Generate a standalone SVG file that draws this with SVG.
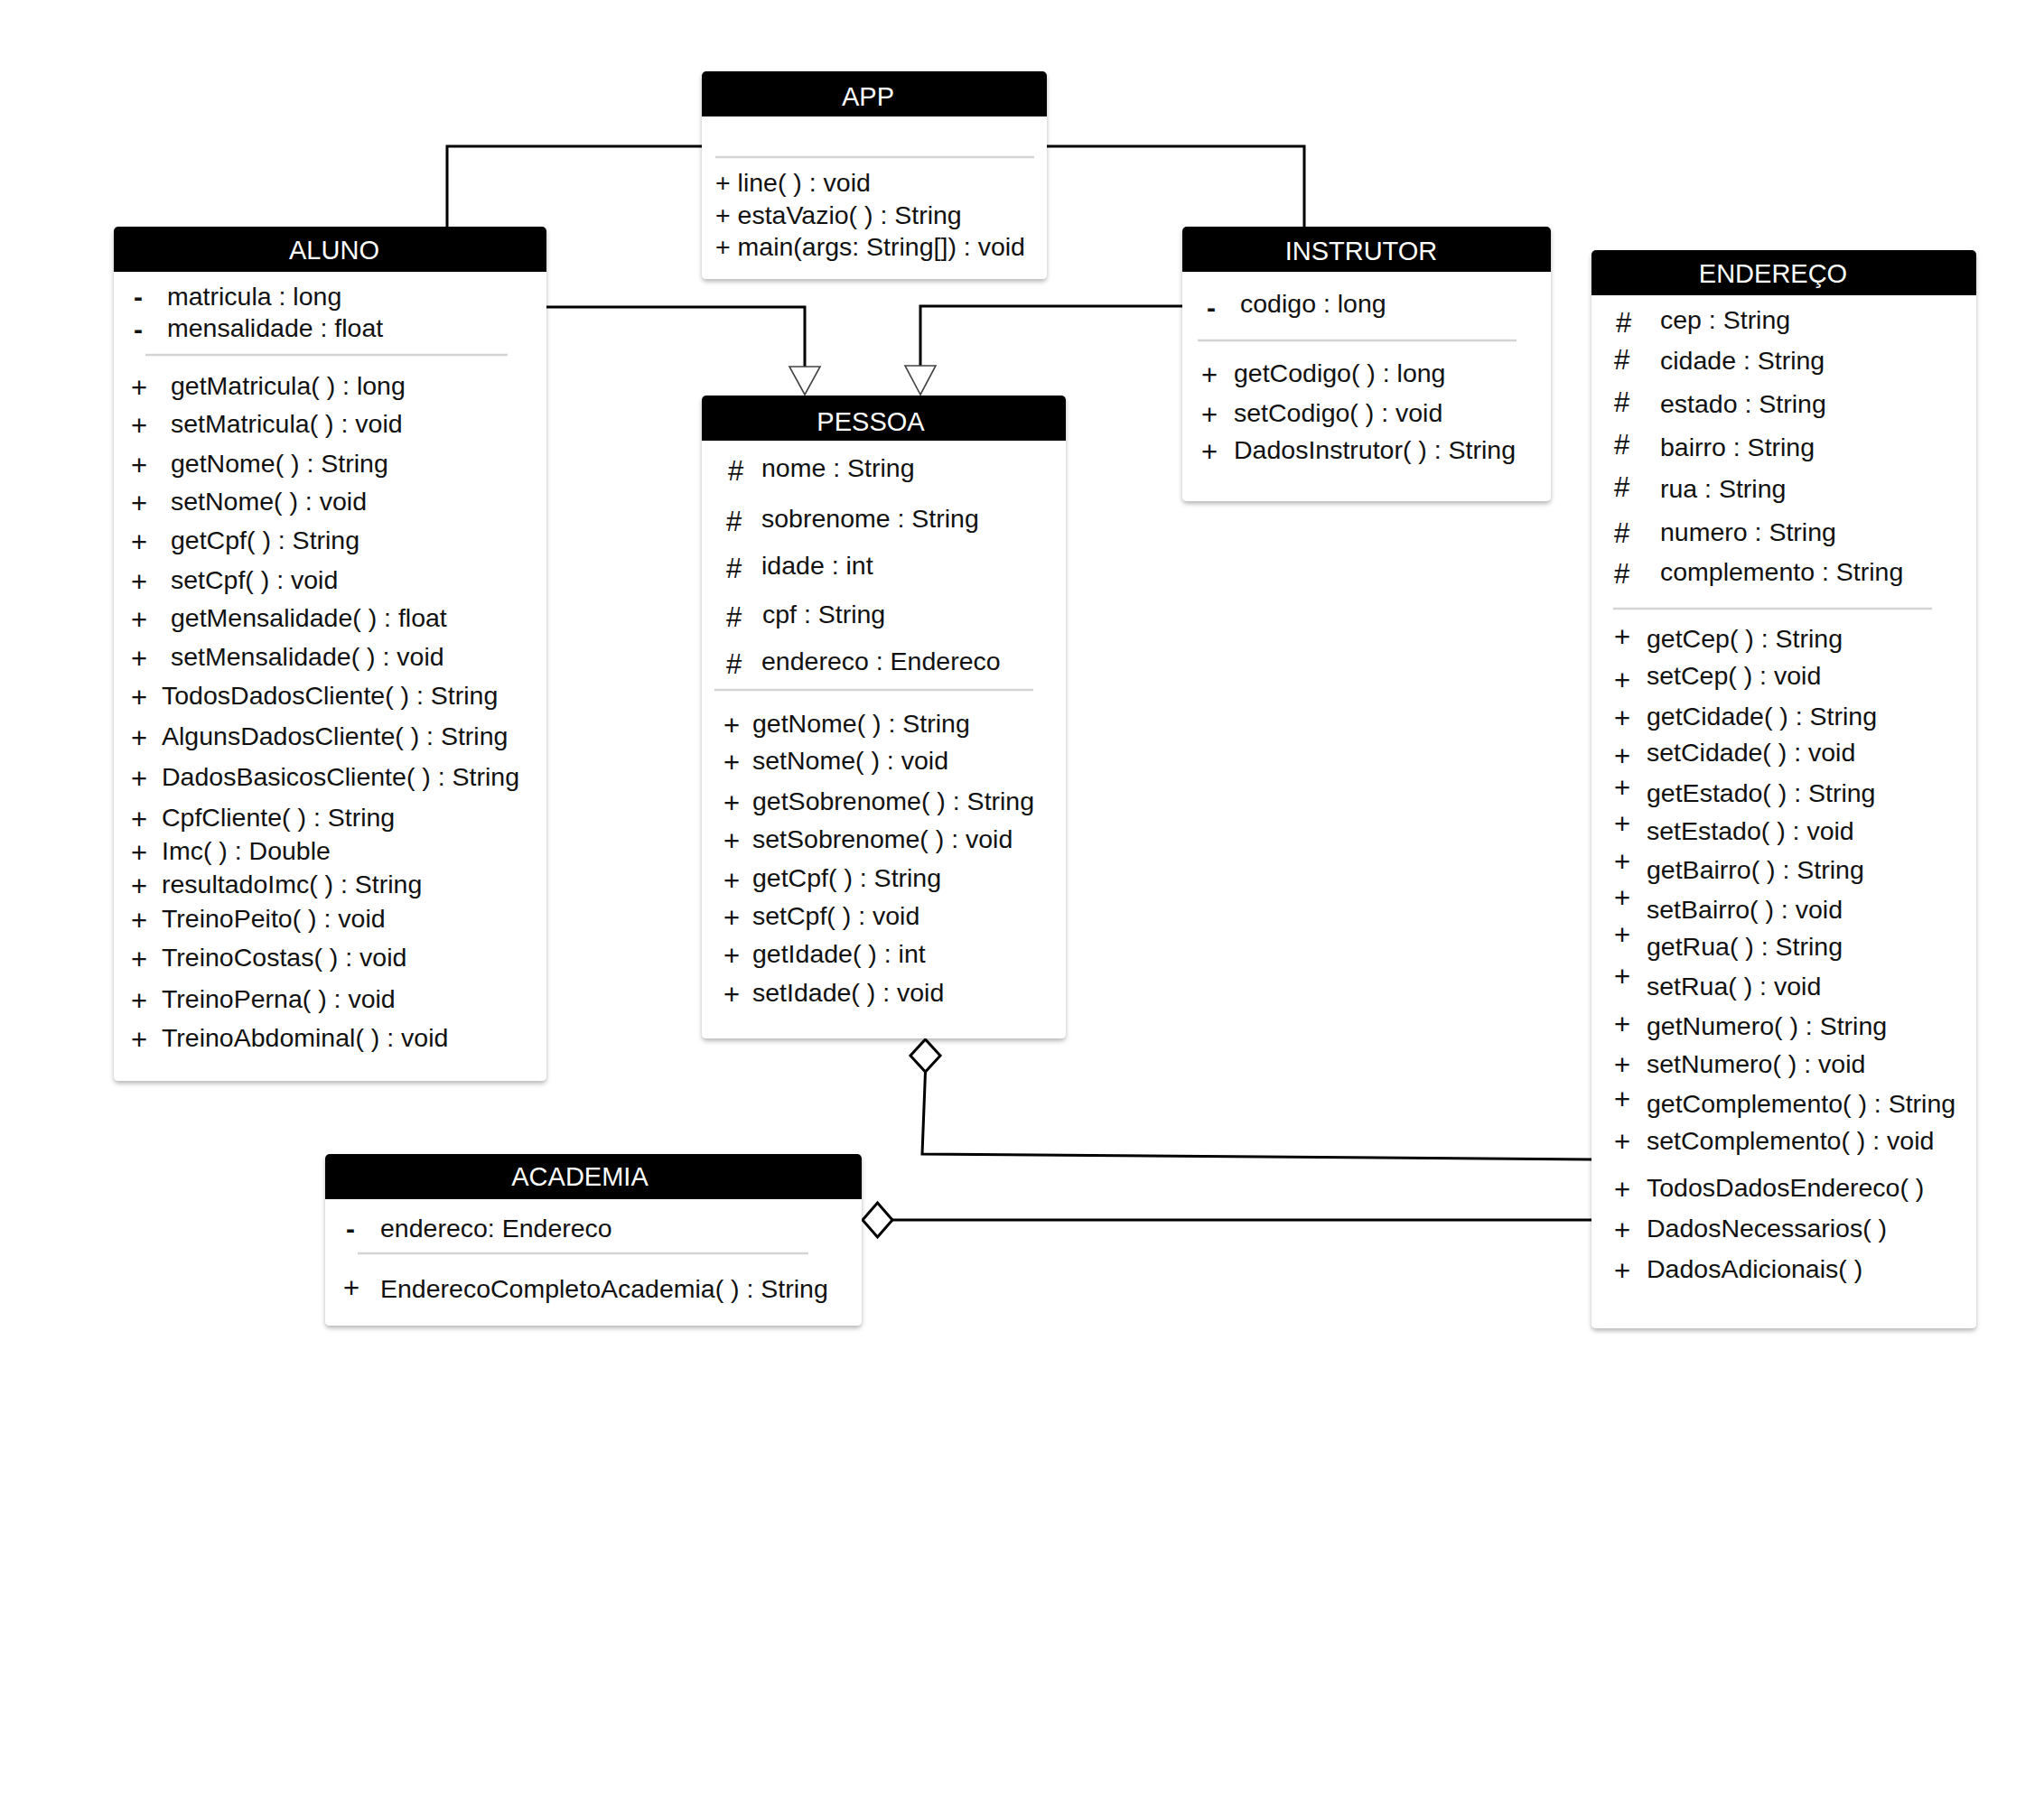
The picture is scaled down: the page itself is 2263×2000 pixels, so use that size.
<svg xmlns="http://www.w3.org/2000/svg" width="2263" height="2000" viewBox="0 0 2263 2000">
  <defs>
    <filter id="shadow" x="-5%" y="-5%" width="110%" height="110%">
      <feDropShadow dx="0" dy="3" stdDeviation="2.5" flood-color="#000" flood-opacity="0.28"/>
    </filter>
  </defs>
  <style>
    .card { fill: #ffffff; filter: url(#shadow); }
    .hdr { fill: #000000; }
    .title { font-family: "Liberation Sans", Arial, sans-serif; font-size: 29px; fill: #ffffff; text-anchor: middle; }
    .t { font-family: "Liberation Sans", Arial, sans-serif; font-size: 28.5px; fill: #111111; }
    .vis { font-family: "Liberation Sans", Arial, sans-serif; font-size: 31px; fill: #111111; }
    .dash { font-family: "Liberation Sans", Arial, sans-serif; font-size: 30px; font-weight: bold; fill: #111111; }
    .sep { stroke: #d4d4d4; stroke-width: 2.5; }
    .edge { fill: none; stroke: #000000; stroke-width: 3; }
    .tri { fill: #ffffff; stroke: #444444; stroke-width: 1.6; }
    .dia { fill: #ffffff; stroke: #000000; stroke-width: 3; stroke-linejoin: miter; }
  </style>

  <rect width="2263" height="2000" fill="#ffffff"/>

  <!-- connectors -->
  <g id="connectors">
    <!-- APP associations -->
    <polyline class="edge" points="777,162 495,162 495,251"/>
    <polyline class="edge" points="1158,162 1444,162 1444,251"/>
    <!-- ALUNO extends PESSOA -->
    <polyline class="edge" points="605,340 891,340 891,406"/>
    <polygon class="tri" points="874,406 908,406 891,437"/>
    <!-- INSTRUTOR extends PESSOA -->
    <polyline class="edge" points="1309,339 1019,339 1019,405"/>
    <polygon class="tri" points="1002,405 1036,405 1019,437"/>
    <!-- PESSOA aggregates ENDERECO -->
    <polyline class="edge" points="1024.5,1187 1021,1278 1762,1284"/>
    <polygon class="dia" points="1024.5,1151 1041,1169 1024.5,1187 1008,1169"/>
    <!-- ACADEMIA aggregates ENDERECO -->
    <line class="edge" x1="988" y1="1351" x2="1762" y2="1351"/>
    <polygon class="dia" points="955,1351 971.5,1332 988,1351 971.5,1370"/>
  </g>

  <!-- APP -->
  <g id="app">
    <rect class="card" x="777" y="79" width="382" height="230" rx="5"/>
    <path class="hdr" d="M777,129 V84 a5,5 0 0 1 5,-5 H1154 a5,5 0 0 1 5,5 V129 Z"/>
    <text class="title" x="961" y="117">APP</text>
    <line class="sep" x1="792" y1="174" x2="1145" y2="174"/>
    <text class="t" x="792" y="212">+ line( ) : void</text>
    <text class="t" x="792" y="248">+ estaVazio( ) : String</text>
    <text class="t" x="792" y="283">+ main(args: String[]) : void</text>
  </g>

  <!-- ALUNO -->
  <g id="aluno">
    <rect class="card" x="126" y="251" width="479" height="946" rx="5"/>
    <path class="hdr" d="M126,301 V256 a5,5 0 0 1 5,-5 H600 a5,5 0 0 1 5,5 V301 Z"/>
    <text class="title" x="370" y="287">ALUNO</text>
    <text class="dash" x="148" y="339">-</text>
    <text class="t" x="185" y="338">matricula : long</text>
    <text class="dash" x="148" y="375">-</text>
    <text class="t" x="185" y="373">mensalidade : float</text>
    <line class="sep" x1="161" y1="393" x2="562" y2="393"/>
    <text class="vis" x="145" y="440">+</text><text class="t" x="189" y="437">getMatricula( ) : long</text>
    <text class="vis" x="145" y="482">+</text><text class="t" x="189" y="479">setMatricula( ) : void</text>
    <text class="vis" x="145" y="526">+</text><text class="t" x="189" y="523">getNome( ) : String</text>
    <text class="vis" x="145" y="568">+</text><text class="t" x="189" y="565">setNome( ) : void</text>
    <text class="vis" x="145" y="611">+</text><text class="t" x="189" y="608">getCpf( ) : String</text>
    <text class="vis" x="145" y="655">+</text><text class="t" x="189" y="652">setCpf( ) : void</text>
    <text class="vis" x="145" y="697">+</text><text class="t" x="189" y="694">getMensalidade( ) : float</text>
    <text class="vis" x="145" y="740">+</text><text class="t" x="189" y="737">setMensalidade( ) : void</text>
    <text class="vis" x="145" y="783">+</text><text class="t" x="179" y="780">TodosDadosCliente( ) : String</text>
    <text class="vis" x="145" y="828">+</text><text class="t" x="179" y="825">AlgunsDadosCliente( ) : String</text>
    <text class="vis" x="145" y="873">+</text><text class="t" x="179" y="870">DadosBasicosCliente( ) : String</text>
    <text class="vis" x="145" y="918">+</text><text class="t" x="179" y="915">CpfCliente( ) : String</text>
    <text class="vis" x="145" y="955">+</text><text class="t" x="179" y="952">Imc( ) : Double</text>
    <text class="vis" x="145" y="992">+</text><text class="t" x="179" y="989">resultadoImc( ) : String</text>
    <text class="vis" x="145" y="1030">+</text><text class="t" x="179" y="1027">TreinoPeito( ) : void</text>
    <text class="vis" x="145" y="1073">+</text><text class="t" x="179" y="1070">TreinoCostas( ) : void</text>
    <text class="vis" x="145" y="1119">+</text><text class="t" x="179" y="1116">TreinoPerna( ) : void</text>
    <text class="vis" x="145" y="1162">+</text><text class="t" x="179" y="1159">TreinoAbdominal( ) : void</text>
  </g>

  <!-- PESSOA -->
  <g id="pessoa">
    <rect class="card" x="777" y="438" width="403" height="712" rx="5"/>
    <path class="hdr" d="M777,488 V443 a5,5 0 0 1 5,-5 H1175 a5,5 0 0 1 5,5 V488 Z"/>
    <text class="title" x="964" y="477">PESSOA</text>
    <text class="vis" x="806" y="532">#</text><text class="t" x="843" y="528">nome : String</text>
    <text class="vis" x="804" y="588">#</text><text class="t" x="843" y="584">sobrenome : String</text>
    <text class="vis" x="804" y="640">#</text><text class="t" x="843" y="636">idade : int</text>
    <text class="vis" x="804" y="694">#</text><text class="t" x="844" y="690">cpf : String</text>
    <text class="vis" x="804" y="746">#</text><text class="t" x="843" y="742">endereco : Endereco</text>
    <line class="sep" x1="791" y1="764" x2="1144" y2="764"/>
    <text class="vis" x="801" y="814">+</text><text class="t" x="833" y="811">getNome( ) : String</text>
    <text class="vis" x="801" y="855">+</text><text class="t" x="833" y="852">setNome( ) : void</text>
    <text class="vis" x="801" y="900">+</text><text class="t" x="833" y="897">getSobrenome( ) : String</text>
    <text class="vis" x="801" y="942">+</text><text class="t" x="833" y="939">setSobrenome( ) : void</text>
    <text class="vis" x="801" y="986">+</text><text class="t" x="833" y="982">getCpf( ) : String</text>
    <text class="vis" x="801" y="1027">+</text><text class="t" x="833" y="1024">setCpf( ) : void</text>
    <text class="vis" x="801" y="1069">+</text><text class="t" x="833" y="1066">getIdade( ) : int</text>
    <text class="vis" x="801" y="1112">+</text><text class="t" x="833" y="1109">setIdade( ) : void</text>
  </g>

  <!-- INSTRUTOR -->
  <g id="instrutor">
    <rect class="card" x="1309" y="251" width="408" height="304" rx="5"/>
    <path class="hdr" d="M1309,301 V256 a5,5 0 0 1 5,-5 H1712 a5,5 0 0 1 5,5 V301 Z"/>
    <text class="title" x="1507" y="288">INSTRUTOR</text>
    <text class="dash" x="1336" y="351">-</text>
    <text class="t" x="1373" y="346">codigo : long</text>
    <line class="sep" x1="1326" y1="377" x2="1679" y2="377"/>
    <text class="vis" x="1330" y="426">+</text><text class="t" x="1366" y="423">getCodigo( ) : long</text>
    <text class="vis" x="1330" y="470">+</text><text class="t" x="1366" y="467">setCodigo( ) : void</text>
    <text class="vis" x="1330" y="511">+</text><text class="t" x="1366" y="508">DadosInstrutor( ) : String</text>
  </g>

  <!-- ENDERECO -->
  <g id="endereco">
    <rect class="card" x="1762" y="277" width="426" height="1194" rx="5"/>
    <path class="hdr" d="M1762,327 V282 a5,5 0 0 1 5,-5 H2183 a5,5 0 0 1 5,5 V327 Z"/>
    <text class="title" x="1963" y="313">ENDEREÇO</text>
    <text class="vis" x="1789" y="368">#</text><text class="t" x="1838" y="364">cep : String</text>
    <text class="vis" x="1787" y="409">#</text><text class="t" x="1838" y="409">cidade : String</text>
    <text class="vis" x="1787" y="456">#</text><text class="t" x="1838" y="457">estado : String</text>
    <text class="vis" x="1787" y="503">#</text><text class="t" x="1838" y="505">bairro : String</text>
    <text class="vis" x="1787" y="550">#</text><text class="t" x="1838" y="551">rua : String</text>
    <text class="vis" x="1787" y="601">#</text><text class="t" x="1838" y="599">numero : String</text>
    <text class="vis" x="1787" y="646">#</text><text class="t" x="1838" y="643">complemento : String</text>
    <line class="sep" x1="1786" y1="674" x2="2139" y2="674"/>
    <text class="vis" x="1787" y="716">+</text><text class="t" x="1823" y="717">getCep( ) : String</text>
    <text class="vis" x="1787" y="764">+</text><text class="t" x="1823" y="758">setCep( ) : void</text>
    <text class="vis" x="1787" y="806">+</text><text class="t" x="1823" y="803">getCidade( ) : String</text>
    <text class="vis" x="1787" y="848">+</text><text class="t" x="1823" y="843">setCidade( ) : void</text>
    <text class="vis" x="1787" y="883">+</text><text class="t" x="1823" y="888">getEstado( ) : String</text>
    <text class="vis" x="1787" y="923">+</text><text class="t" x="1823" y="930">setEstado( ) : void</text>
    <text class="vis" x="1787" y="965">+</text><text class="t" x="1823" y="973">getBairro( ) : String</text>
    <text class="vis" x="1787" y="1005">+</text><text class="t" x="1823" y="1017">setBairro( ) : void</text>
    <text class="vis" x="1787" y="1046">+</text><text class="t" x="1823" y="1058">getRua( ) : String</text>
    <text class="vis" x="1787" y="1092">+</text><text class="t" x="1823" y="1102">setRua( ) : void</text>
    <text class="vis" x="1787" y="1145">+</text><text class="t" x="1823" y="1146">getNumero( ) : String</text>
    <text class="vis" x="1787" y="1190">+</text><text class="t" x="1823" y="1188">setNumero( ) : void</text>
    <text class="vis" x="1787" y="1228">+</text><text class="t" x="1823" y="1232">getComplemento( ) : String</text>
    <text class="vis" x="1787" y="1275">+</text><text class="t" x="1823" y="1273">setComplemento( ) : void</text>
    <text class="vis" x="1787" y="1328">+</text><text class="t" x="1823" y="1325">TodosDadosEndereco( )</text>
    <text class="vis" x="1787" y="1373">+</text><text class="t" x="1823" y="1370">DadosNecessarios( )</text>
    <text class="vis" x="1787" y="1418">+</text><text class="t" x="1823" y="1415">DadosAdicionais( )</text>
  </g>

  <!-- ACADEMIA -->
  <g id="academia">
    <rect class="card" x="360" y="1278" width="594" height="190" rx="5"/>
    <path class="hdr" d="M360,1328 V1283 a5,5 0 0 1 5,-5 H949 a5,5 0 0 1 5,5 V1328 Z"/>
    <text class="title" x="642" y="1313">ACADEMIA</text>
    <text class="dash" x="383" y="1371">-</text>
    <text class="t" x="421" y="1370">endereco: Endereco</text>
    <line class="sep" x1="396" y1="1388" x2="895" y2="1388"/>
    <text class="vis" x="380" y="1437">+</text><text class="t" x="421" y="1437">EnderecoCompletoAcademia( ) : String</text>
  </g>
</svg>
